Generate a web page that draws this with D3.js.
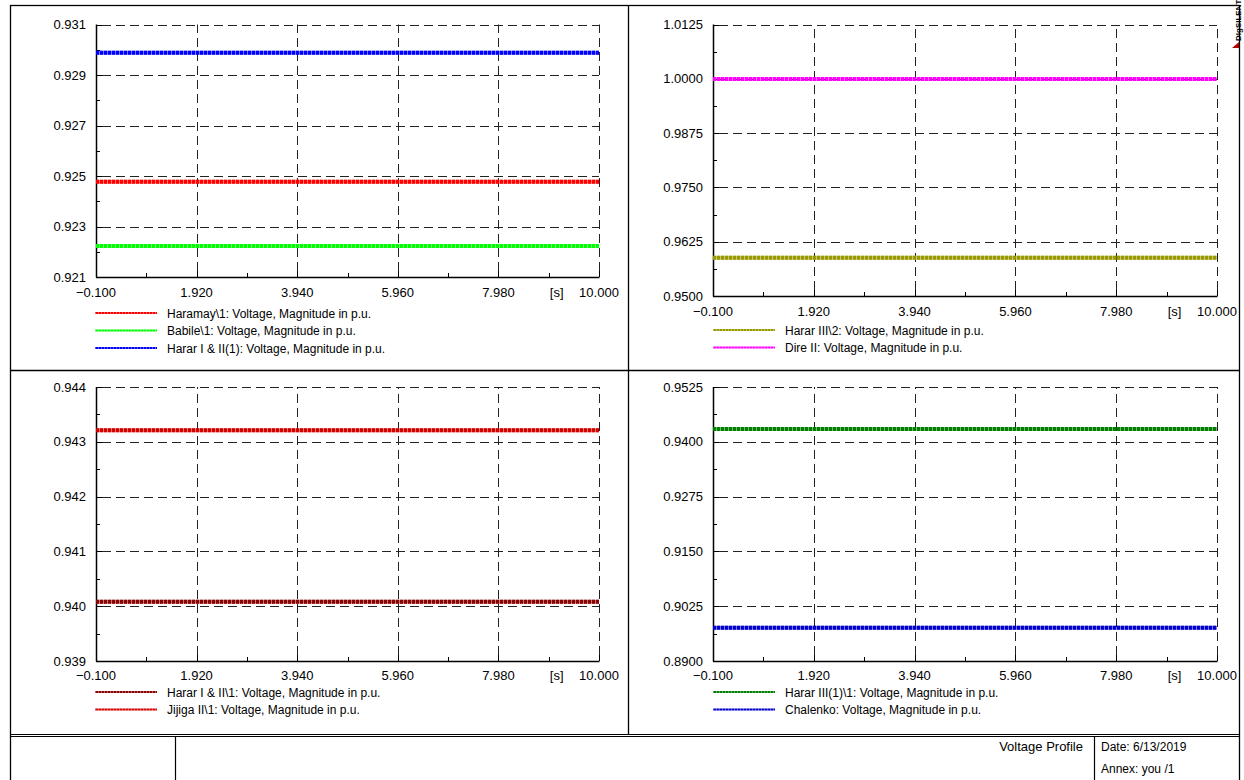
<!DOCTYPE html>
<html>
<head>
<meta charset="utf-8">
<script src="https://cdn.jsdelivr.net/npm/d3@7/dist/d3.min.js"></script>
<style>
body{margin:0;background:#fff;}
svg{display:block;font-family:"Liberation Sans",Arial,sans-serif;}
</style>
</head>
<body>
<svg id="c" width="1244" height="780"></svg>
<script>
// ---- data ----
const timeSamples = [-0.1, 10.0];
const xTicks = [-0.1, 1.92, 3.94, 5.96, 7.98, 10.0];

const p1Ticks = [0.921, 0.923, 0.925, 0.927, 0.929, 0.931];
const p2Ticks = [0.9500, 0.9625, 0.9750, 0.9875, 1.0000, 1.0125];
const p3Ticks = [0.939, 0.940, 0.941, 0.942, 0.943, 0.944];
const p4Ticks = [0.8900, 0.9025, 0.9150, 0.9275, 0.9400, 0.9525];

const haramay = [0.92477, 0.92477];
const babile = [0.92223, 0.92223];
const hararI_II_1 = [0.92988, 0.92988];
const hararIII_2 = [0.95882, 0.95882];
const direII = [0.99995, 0.99995];
const hararI_II_b = [0.94008, 0.94008];
const jijigaII = [0.94321, 0.94321];
const hararIII1 = [0.94292, 0.94292];
const chalenko = [0.89756, 0.89756];

const p1Series = [
  {name: "Haramay\\1: Voltage, Magnitude in p.u.", color: "#ff0000", values: haramay},
  {name: "Babile\\1: Voltage, Magnitude in p.u.", color: "#00ff00", values: babile},
  {name: "Harar I & II(1): Voltage, Magnitude in p.u.", color: "#0000ff", values: hararI_II_1}
];
const p2Series = [
  {name: "Harar III\\2: Voltage, Magnitude in p.u.", color: "#999900", values: hararIII_2},
  {name: "Dire II: Voltage, Magnitude in p.u.", color: "#ff00ff", values: direII}
];
const p3Series = [
  {name: "Harar I & II\\1: Voltage, Magnitude in p.u.", color: "#8b0000", values: hararI_II_b},
  {name: "Jijiga II\\1: Voltage, Magnitude in p.u.", color: "#d40000", values: jijigaII}
];
const p4Series = [
  {name: "Harar III(1)\\1: Voltage, Magnitude in p.u.", color: "#008000", values: hararIII1},
  {name: "Chalenko: Voltage, Magnitude in p.u.", color: "#0000cc", values: chalenko}
];

const xTickFmt = d3.format(".3f");

const panels = [
  {x0: 96, x1: 599, y0: 24.5, y1: 277, ticks: p1Ticks, fmt: d3.format(".3f"), series: p1Series, xlabY: 292, legY: 313, legX: 95},
  {x0: 713, x1: 1217, y0: 24.5, y1: 296, ticks: p2Ticks, fmt: d3.format(".4f"), series: p2Series, xlabY: 311, legY: 330, legX: 713},
  {x0: 96, x1: 599, y0: 387, y1: 661, ticks: p3Ticks, fmt: d3.format(".3f"), series: p3Series, xlabY: 675, legY: 692, legX: 95},
  {x0: 713, x1: 1217, y0: 387, y1: 661, ticks: p4Ticks, fmt: d3.format(".4f"), series: p4Series, xlabY: 675, legY: 692, legX: 713}
];

const svg = d3.select("#c");

// frame
svg.append("rect").attr("x", 10.5).attr("y", 5.5).attr("width", 1229).attr("height", 780)
  .attr("fill", "none").attr("stroke", "#000").attr("stroke-width", 1.3);
svg.append("line").attr("x1", 628.5).attr("x2", 628.5).attr("y1", 5).attr("y2", 735)
  .attr("stroke", "#000").attr("stroke-width", 1.3);
svg.append("line").attr("x1", 10).attr("x2", 1240).attr("y1", 370.5).attr("y2", 370.5)
  .attr("stroke", "#000").attr("stroke-width", 1.3);
// title block
svg.append("line").attr("x1", 10).attr("x2", 1240).attr("y1", 734.5).attr("y2", 734.5).attr("stroke", "#000").attr("stroke-width", 1);
svg.append("line").attr("x1", 10).attr("x2", 1240).attr("y1", 736.5).attr("y2", 736.5).attr("stroke", "#000").attr("stroke-width", 1);
svg.append("line").attr("x1", 175.5).attr("x2", 175.5).attr("y1", 736).attr("y2", 780).attr("stroke", "#000").attr("stroke-width", 1.2);
svg.append("line").attr("x1", 1094.5).attr("x2", 1094.5).attr("y1", 736).attr("y2", 780).attr("stroke", "#000").attr("stroke-width", 1.2);
svg.append("text").attr("x", 1083).attr("y", 751).attr("text-anchor", "end").attr("font-size", 13).text("Voltage Profile");
svg.append("text").attr("x", 1101).attr("y", 751).attr("font-size", 12).text("Date: 6/13/2019");
svg.append("text").attr("x", 1101).attr("y", 773).attr("font-size", 12).text("Annex: you /1");

// DIgSILENT mark
const dg = svg.append("g").attr("transform", "translate(1241,41) rotate(-90)");
dg.append("text").attr("x", 0).attr("y", 0).attr("font-size", 8).attr("font-weight", "bold").text("DIgSILENT");
svg.append("path").attr("d", "M1232,48 L1239,42 L1239,48 Z").attr("fill", "#b00000");

panels.forEach(p => {
  const x = d3.scaleLinear().domain([xTicks[0], xTicks[xTicks.length - 1]]).range([p.x0, p.x1]);
  const y = d3.scaleLinear().domain([p.ticks[0], p.ticks[p.ticks.length - 1]]).range([p.y1, p.y0]);
  const g = svg.append("g");

  // grid
  g.selectAll(".hg").data(p.ticks.slice(1)).enter().append("line")
    .attr("x1", p.x0 + 6).attr("x2", p.x1).attr("y1", d => Math.round(y(d)) + 0.5).attr("y2", d => Math.round(y(d)) + 0.5)
    .attr("stroke", "#222").attr("stroke-width", 1).attr("stroke-dasharray", "9,5");
  g.selectAll(".vg").data(xTicks.slice(1)).enter().append("line")
    .attr("y1", p.y1 - 6).attr("y2", p.y0).attr("x1", d => Math.round(x(d)) + 0.5).attr("x2", d => Math.round(x(d)) + 0.5)
    .attr("stroke", "#222").attr("stroke-width", 1).attr("stroke-dasharray", "9,5");

  // major ticks (solid)
  g.selectAll(".ht").data(p.ticks.slice(1)).enter().append("line")
    .attr("x1", p.x0).attr("x2", p.x0 + 6).attr("y1", d => Math.round(y(d)) + 0.5).attr("y2", d => Math.round(y(d)) + 0.5)
    .attr("stroke", "#000");
  g.selectAll(".vt").data(xTicks.slice(1)).enter().append("line")
    .attr("y1", p.y1).attr("y2", p.y1 - 6).attr("x1", d => Math.round(x(d)) + 0.5).attr("x2", d => Math.round(x(d)) + 0.5)
    .attr("stroke", "#000");
  // minor ticks
  const yMinor = p.ticks.slice(1).map((d, i) => (d + p.ticks[i]) / 2);
  const xMinor = xTicks.slice(1).map((d, i) => (d + xTicks[i]) / 2);
  g.selectAll(".hm").data(yMinor).enter().append("line")
    .attr("x1", p.x0).attr("x2", p.x0 + 4).attr("y1", d => Math.round(y(d)) + 0.5).attr("y2", d => Math.round(y(d)) + 0.5)
    .attr("stroke", "#000");
  g.selectAll(".vm").data(xMinor).enter().append("line")
    .attr("y1", p.y1).attr("y2", p.y1 - 4).attr("x1", d => Math.round(x(d)) + 0.5).attr("x2", d => Math.round(x(d)) + 0.5)
    .attr("stroke", "#000");

  // axes lines
  g.append("line").attr("x1", p.x0 + 0.5).attr("x2", p.x0 + 0.5).attr("y1", p.y0).attr("y2", p.y1 + 0.5).attr("stroke", "#000").attr("stroke-width", 1.5);
  g.append("line").attr("x1", p.x0).attr("x2", p.x1 + 0.5).attr("y1", p.y1 + 0.5).attr("y2", p.y1 + 0.5).attr("stroke", "#000").attr("stroke-width", 1.5);

  // y labels
  g.selectAll(".yl").data(p.ticks).enter().append("text")
    .attr("x", p.x0 - 10).attr("y", d => y(d) + 4.5).attr("text-anchor", "end").attr("font-size", 13)
    .text(d => p.fmt(d));
  // x labels
  g.selectAll(".xl").data(xTicks).enter().append("text")
    .attr("x", d => x(d)).attr("y", p.xlabY + 4.5).attr("text-anchor", "middle").attr("font-size", 13)
    .text(d => xTickFmt(d));
  g.append("text").attr("x", x(9.15)).attr("y", p.xlabY + 4.5).attr("text-anchor", "middle").attr("font-size", 13).text("[s]");

  // series
  const line = d3.line().x((d, i) => x(timeSamples[i])).y(d => y(d));
  p.series.forEach((s, k) => {
    g.append("path").attr("d", line(s.values)).attr("fill", "none").attr("stroke", s.color).attr("stroke-opacity", 0.55).attr("stroke-width", 4);
    g.append("path").attr("d", line(s.values)).attr("fill", "none").attr("stroke", s.color).attr("stroke-width", 4).attr("stroke-dasharray", "3,1");
    const ly = p.legY + k * 17.5;
    g.append("line").attr("x1", p.legX).attr("x2", p.legX + 62).attr("y1", ly).attr("y2", ly)
      .attr("stroke", s.color).attr("stroke-width", 2);
    g.append("line").attr("x1", p.legX).attr("x2", p.legX + 62).attr("y1", ly).attr("y2", ly)
      .attr("stroke", "#fff").attr("stroke-opacity", 0.35).attr("stroke-width", 2).attr("stroke-dasharray", "1,2");
    g.append("text").attr("x", p.legX + 72).attr("y", ly + 4.5).attr("font-size", 12).text(s.name);
  });
});
</script>
</body>
</html>
